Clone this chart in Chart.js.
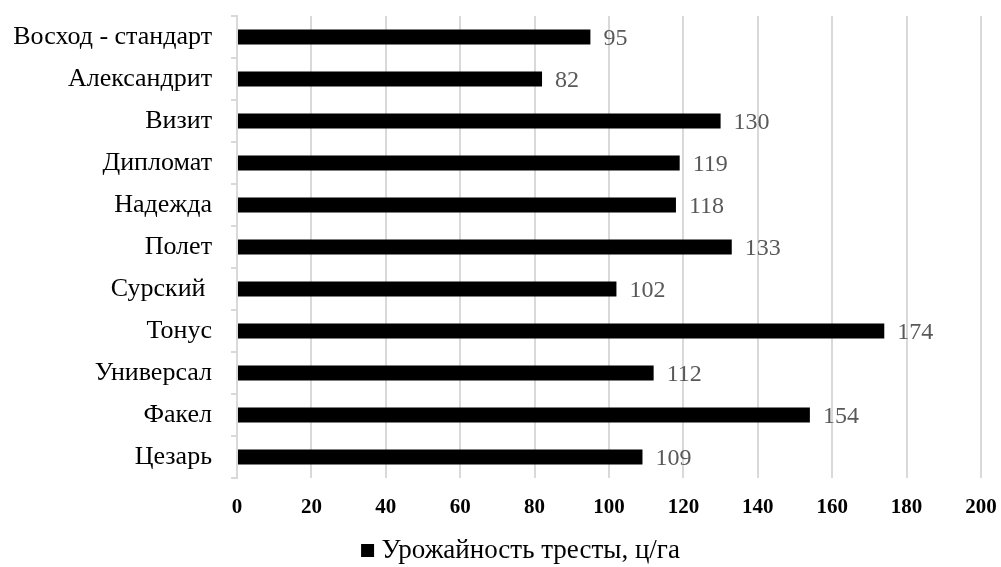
<!DOCTYPE html>
<html>
<head>
<meta charset="utf-8">
<script src="https://cdn.jsdelivr.net/npm/chart.js@4/dist/chart.umd.min.js"></script>
<style>
  html, body { margin: 0; padding: 0; background: #fff; }
  #wrap { width: 1001px; height: 567px; }
</style>
</head>
<body>
<div id="wrap"><canvas id="c" width="1001" height="567"></canvas></div>
<script>
// Сорта льна-долгунца и урожайность тресты
const categories = ['Восход - стандарт', 'Александрит', 'Визит', 'Дипломат', 'Надежда', 'Полет', 'Сурский ', 'Тонус', 'Универсал', 'Факел', 'Цезарь'];
const yieldValues = [95, 82, 130, 119, 118, 133, 102, 174, 112, 154, 109];
const seriesLabel = 'Урожайность тресты, ц/га';
const xTicks = [0, 20, 40, 60, 80, 100, 120, 140, 160, 180, 200];

const serif = '"Liberation Serif", "Times New Roman", serif';

// Подписи значений справа от столбцов
const valueLabels = {
  id: 'valueLabels',
  afterDatasetsDraw(chart) {
    const ctx = chart.ctx;
    const meta = chart.getDatasetMeta(0);
    const xScale = chart.scales.x;
    ctx.save();
    ctx.font = '24px ' + serif;
    ctx.fillStyle = '#595959';
    ctx.textAlign = 'left';
    ctx.textBaseline = 'middle';
    meta.data.forEach((bar, i) => {
      const v = yieldValues[i];
      ctx.fillText(String(v), xScale.getPixelForValue(v) + 13, bar.y + 2);
    });
    ctx.restore();
  }
};

// Легенда центрируется над областью построения и опускается к нижнему краю
const legendShift = {
  id: 'legendShift',
  afterLayout(chart) {
    const dx = 33, dy = 7;
    chart.legend.left += dx;
    chart.legend.right += dx;
    chart.legend.top += dy;
    chart.legend.bottom += dy;
  }
};

new Chart(document.getElementById('c'), {
  type: 'bar',
  data: {
    labels: categories,
    datasets: [{
      label: seriesLabel,
      data: yieldValues,
      backgroundColor: '#000000',
      borderWidth: 0,
      barPercentage: 0.36,
      categoryPercentage: 1.0
    }]
  },
  options: {
    indexAxis: 'y',
    responsive: false,
    animation: false,
    layout: { padding: { top: 16, right: 20, left: 0, bottom: 0 } },
    scales: {
      x: {
        min: 0,
        max: 200,
        afterBuildTicks(scale) { scale.ticks = xTicks.map(v => ({ value: v })); },
        afterFit(scale) {
          scale.height = 52;
          scale.paddingLeft = 0;
          scale.paddingRight = 0;
        },
        grid: { color: '#d9d9d9', lineWidth: 2, drawTicks: false },
        border: { display: false },
        ticks: {
          color: '#000',
          padding: 17,
          font: { family: serif, size: 21, weight: 'bold' }
        }
      },
      y: {
        afterFit(scale) {
          scale.width = 237;
          scale.paddingTop = 0;
          scale.paddingBottom = 0;
        },
        grid: { drawOnChartArea: false, drawTicks: true, tickLength: 6, color: '#d9d9d9', lineWidth: 2, offset: true },
        border: { display: true, color: '#d9d9d9', width: 2 },
        ticks: {
          color: '#000',
          padding: 19,
          font: { family: serif, size: 26 }
        }
      }
    },
    plugins: {
      legend: {
        position: 'bottom',
        labels: {
          color: '#000',
          usePointStyle: true,
          pointStyle: 'rect',
          boxWidth: 1,
          boxHeight: 13,
          padding: 0,
          font: { family: serif, size: 27 }
        }
      },
      tooltip: { enabled: false }
    }
  },
  plugins: [valueLabels, legendShift]
});
</script>
</body>
</html>
